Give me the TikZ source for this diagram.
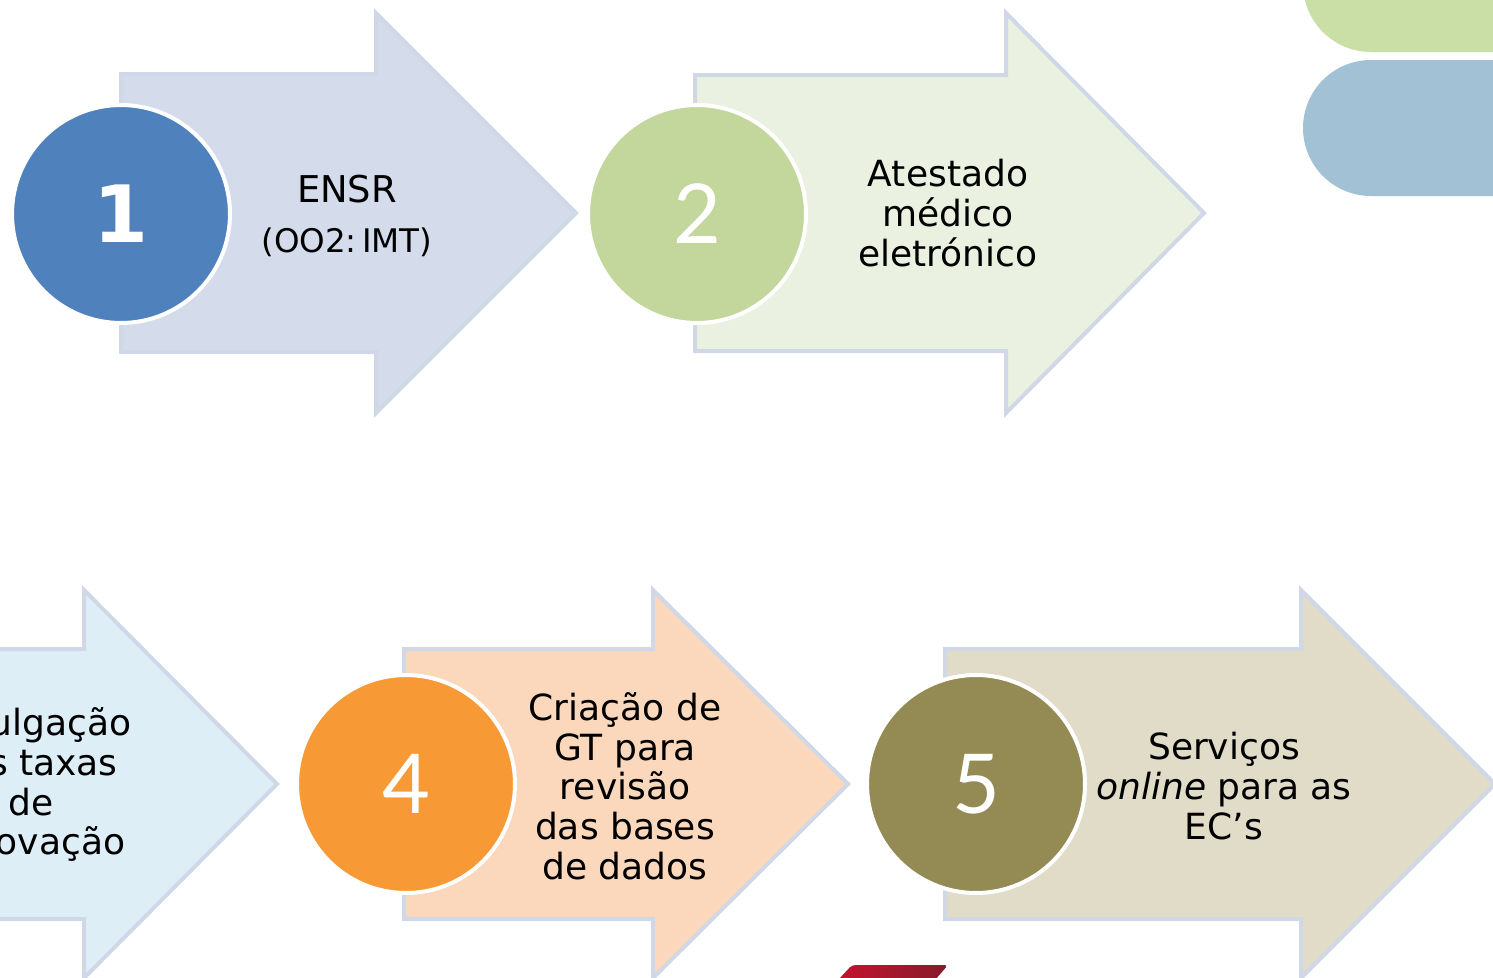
\documentclass[tikz,border=0pt]{standalone}
\usepackage{fontspec}
\setmainfont{DejaVu Sans}
\newfontfamily\digitfont{Lato}
\usetikzlibrary{positioning}
\definecolor{arrowline}{HTML}{D0D8E8}
\definecolor{fillA}{HTML}{D4DBEA}
\definecolor{fillB}{HTML}{EBF1E0}
\definecolor{fillC}{HTML}{DEEEF6}
\definecolor{fillD}{HTML}{FBD8BB}
\definecolor{fillE}{HTML}{E0DCC8}
\definecolor{dotA}{HTML}{4F81BD}
\definecolor{dotB}{HTML}{C3D69B}
\definecolor{dotD}{HTML}{F79A36}
\definecolor{dotE}{HTML}{948A54}
\definecolor{tabgreen}{HTML}{CADFA6}
\definecolor{tabblue}{HTML}{A2C1D5}
\definecolor{redL}{HTML}{C3142F}
\definecolor{redR}{HTML}{861B2A}
\tikzset{
x=0.02cm, y=-0.02cm, % one unit = one pixel, y downwards
steparrow/.style={draw=arrowline, line width=0.08cm, line join=miter},
stepdot/.style={circle, draw=white, line width=0.08cm, minimum size=4.36cm,
  inner sep=0pt, text=white, font=\digitfont\fontsize{47}{50}\selectfont},
steptext/.style={align=center, text=black, font=\fontsize{20.5}{22.6}\selectfont},
}

\begin{document}
\begin{tikzpicture}
   \useasboundingbox (0,0) rectangle (1493,977);
   \clip (0,0) rectangle (1493,977);
   % tabs top right
   \fill[tabgreen, rounded corners=1.36cm] (1303,-84) rectangle (1700,52);
   \fill[tabblue, rounded corners=1.36cm] (1303,60) rectangle (1700,196);
   % red mark bottom
   \shade[left color=redL, right color=redR, rounded corners=2pt]
     (838,980) -- (852,965) -- (948,965) -- (935,980) -- cycle;
   % first row
   \filldraw[steparrow, fill=fillA] (121,74) -- (376,74) -- (376,13) -- (576,213)
     -- (376,413) -- (376,352) -- (121,352) -- cycle;
   \node[stepdot, fill=dotA, font=\bfseries\fontsize{45}{50}\selectfont] (s1) at (121,214) {1};
   \node[steptext, font=\fontsize{21}{24}\selectfont] (ensr) at (347,189) {ENSR};
   \node[steptext, font=\fontsize{18.5}{20}\selectfont] (imt) [on grid, below=1.06cm of ensr] {(OO2:\,IMT)};
   \filldraw[steparrow, fill=fillB] (695,75) -- (1006,75) -- (1006,13) -- (1204,213)
     -- (1006,413) -- (1006,351) -- (695,351) -- cycle;
   \node[stepdot, fill=dotB] (s2) at (697,214) {2};
   \node[steptext] (atestado) at (948,213) {Atestado\\médico\\eletrónico};
   % second row
   \filldraw[steparrow, fill=fillC] (-200,649) -- (84,649) -- (84,590) -- (277,784)
     -- (84,978) -- (84,919) -- (-200,919) -- cycle;
   \node[steptext] (taxas) at (31,785) {Divulgação\\das taxas\\de\\aprovação};
   \filldraw[steparrow, fill=fillD] (404,649) -- (653,649) -- (653,590) -- (848,784)
     -- (653,978) -- (653,919) -- (404,919) -- cycle;
   \node[stepdot, fill=dotD] (s4) at (406,784) {4};
   \node[steptext] (gt) at (625,786) {Criação de\\GT para\\revisão\\das bases\\de dados};
   \filldraw[steparrow, fill=fillE] (945,649) -- (1301,649) -- (1301,590) -- (1495,784)
     -- (1301,978) -- (1301,919) -- (945,919) -- cycle;
   \node[stepdot, fill=dotE] (s5) at (976,784) {5};
   \node[steptext] (online) at (1224,786) {Serviços\\\emph{online} para as\\EC’s};
\end{tikzpicture}
\end{document}
